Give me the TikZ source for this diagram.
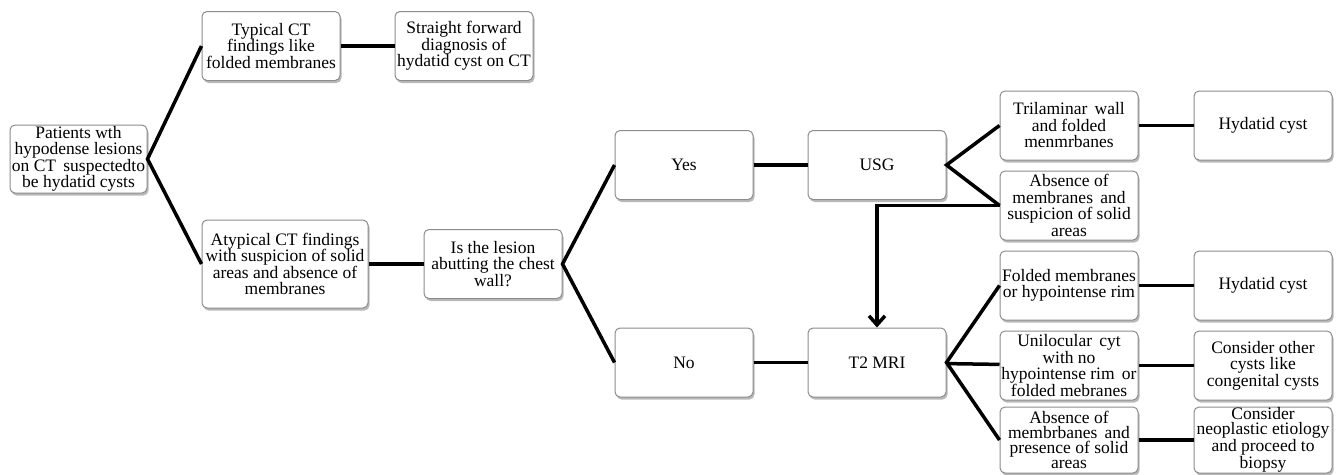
\documentclass[tikz,border=0pt]{standalone}
\usepackage{fontspec}
\setmainfont{Liberation Serif}
\usetikzlibrary{positioning,shadows,arrows.meta}
\tikzstyle{block} = [rectangle, draw=black!45, line width=1pt, fill=white,
align=center, rounded corners=5pt, minimum width=138pt,
minimum height=69pt, inner xsep=0pt, inner ysep=1pt, font=\fontsize{17.5}{16.5}\selectfont,
drop shadow={shadow xshift=1.5pt, shadow yshift=-2.5pt, fill=black!50, opacity=0.55}]
\tikzstyle{lastrow} = [minimum height=66pt, inner ysep=0pt, font=\fontsize{17.5}{15}\selectfont]
\tikzstyle{line} = [draw, line width=3.5pt]
\tikzstyle{arrowline} = [draw, line width=3.5pt, -{Straight Barb[length=9pt,width=16pt]}]

\begin{document}
\begin{tikzpicture}[x=1pt, y=1pt]
\useasboundingbox (0,0) rectangle (1336,-474);
% Place nodes
\node [block, minimum width=137pt, minimum height=68pt] (pat) at (78.5,-159) {Patients wth\\hypodense lesions\\on CT\, suspectedto\\be hydatid cysts};
\node [block] (typ) at (271,-46) {Typical CT\\findings like\\folded membranes};
\node [block, right=54pt of typ] (sfd) {Straight forward\\diagnosis of\\hydatid cyst on CT};
\node [block, minimum width=166pt, minimum height=88pt] (atyp) at (285,-264) {Atypical CT findings\\with suspicion of solid\\areas and absence of\\membranes};
\node [block, right=55pt of atyp] (isl) {Is the lesion\\abutting the chest\\wall?};
\node [block] (yes) at (684,-165) {Yes};
\node [block, right=54pt of yes] (usg) {USG};
\node [block] (no) at (684,-362.5) {No};
\node [block, right=54pt of no] (t2) {T2 MRI};
\node [block] (tri) at (1069,-125.5) {Trilaminar\, wall\\and folded\\menmrbanes};
\node [block, below=10pt of tri] (abs1) {Absence of\\membranes\, and\\suspicion of solid\\areas};
\node [block, below=10pt of abs1] (fold) {Folded membranes\\or hypointense rim};
\node [block, below=10pt of fold] (uni) {Unilocular\, cyt\\with no\\hypointense rim\, or\\folded mebranes};
\node [block, lastrow, below=6pt of uni] (abs2) {Absence of\\membrbanes\, and\\presence of solid\\areas};
\node [block, right=55pt of tri] (hy1) {Hydatid cyst};
\node [block, right=55pt of fold] (hy2) {Hydatid cyst};
\node [block, right=55pt of uni] (coc) {Consider other\\cysts like\\congenital cysts};
\node [block, lastrow, right=55pt of abs2] (neo) {Consider\\neoplastic etiology\\and proceed to\\biopsy};
% Draw connectors
\path [line] (typ.west) -- (pat.east) -- (atyp.west);
\path [line] (typ) -- (sfd);
\path [line] (atyp) -- (isl);
\path [line] (yes.west) -- (isl.east) -- (no.west);
\path [line] (yes) -- (usg);
\path [line] (no) -- (t2);
\path [line] (tri.west) -- (usg.east) -- (abs1.west);
\path [line] (fold.west) -- (t2.east) -- (abs2.west);
\path [line] (t2) -- (uni);
\path [arrowline] (abs1.west) -| (t2.north);
\path [line] (tri) -- (hy1);
\path [line] (fold) -- (hy2);
\path [line] (uni) -- (coc);
\path [line] (abs2) -- (neo);
\end{tikzpicture}
\end{document}
